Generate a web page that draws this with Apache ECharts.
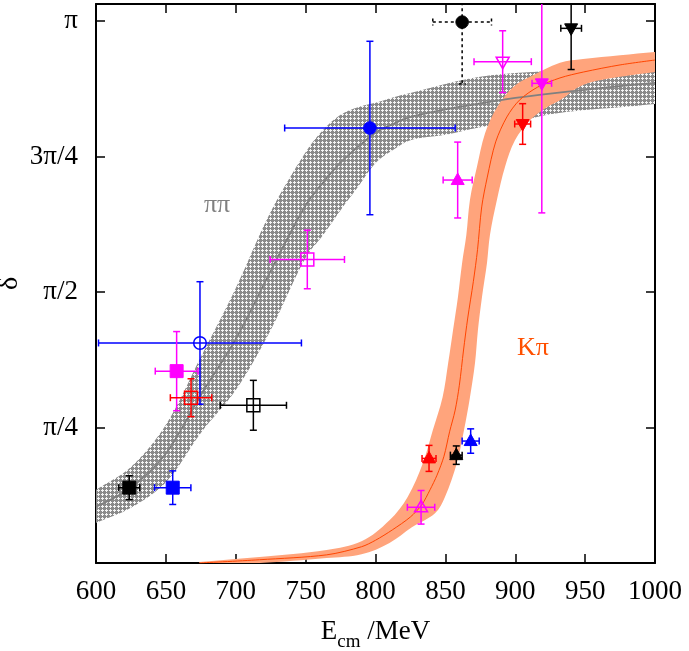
<!DOCTYPE html>
<html>
<head>
<meta charset="utf-8">
<title>phase shift</title>
<script src="https://cdn.jsdelivr.net/npm/echarts@6/dist/echarts.min.js"></script>
<style>
  html, body { margin: 0; padding: 0; background: #fff; }
  #chart { width: 689px; height: 651px; }
</style>
</head>
<body>
<div id="chart"></div>
<script>
// y values are in units of pi
const yTickLabels = ["", "π/4", "π/2", "3π/4", "π"];

// pi-pi band (hatched)
const pipiX = [600, 625, 650, 675, 700, 725, 750, 762.5, 775, 787.5, 800, 812.5, 825, 850, 875, 900, 925, 950, 975, 1000];
const pipiHigh = [0.135, 0.177, 0.255, 0.38, 0.507, 0.648, 0.758, 0.799, 0.827, 0.841, 0.849, 0.859, 0.867, 0.884, 0.897, 0.904, 0.908, 0.91, 0.911, 0.913];
const pipiLow = [0.074, 0.102, 0.149, 0.24, 0.319, 0.43, 0.563, 0.605, 0.651, 0.694, 0.738, 0.762, 0.78, 0.79, 0.804, 0.814, 0.828, 0.836, 0.841, 0.847];
const pipiMid = [0.104, 0.139, 0.202, 0.31, 0.413, 0.539, 0.66, 0.702, 0.739, 0.768, 0.794, 0.81, 0.823, 0.837, 0.848, 0.858, 0.866, 0.873, 0.88, 0.886];

// K-pi band, [E, delta]
const kpiMid = [[674, 0], [717, 0.006], [765, 0.015], [790, 0.03], [800, 0.042], [812, 0.061], [825, 0.085], [833, 0.107],
  [839, 0.135], [844, 0.162], [849, 0.197], [853, 0.242], [857, 0.282], [860, 0.328], [863, 0.393], [866, 0.452],
  [870, 0.519], [873, 0.578], [876, 0.657], [880, 0.712], [886, 0.777], [894, 0.823], [903, 0.854], [916, 0.878],
  [932, 0.895], [949, 0.906], [975, 0.919], [1000, 0.928]];
const kpiHigh = [[674, 0.002], [717, 0.011], [765, 0.024], [790, 0.04], [810, 0.079], [823, 0.122], [834, 0.185], [841, 0.245],
  [848, 0.306], [852, 0.369], [855.5, 0.43], [859, 0.491], [862, 0.554], [865, 0.605], [867.6, 0.67], [872.6, 0.731],
  [878.4, 0.793], [887, 0.841], [898.4, 0.878], [910.6, 0.897], [932, 0.923], [948.5, 0.93], [975, 0.937], [1000, 0.943]];
const kpiLow = [[674, 0], [717, 0], [765, 0.009], [790, 0.016], [810, 0.037], [826, 0.066], [842.6, 0.092], [849.7, 0.122], [858.3, 0.185],
  [863.3, 0.245], [867.6, 0.306], [871.2, 0.369], [873.3, 0.43], [876.2, 0.491], [879.8, 0.554], [881.9, 0.605],
  [886.9, 0.67], [892.7, 0.731], [899.8, 0.78], [910.6, 0.817], [922.7, 0.841], [932, 0.854], [948.5, 0.882],
  [975, 0.897], [1000, 0.906]];

// points: [E, delta, dE, ddelta]
const blackCircle = [[862, 0.998, 21, 0.114]];
const magentaOpenDown = [[891, 0.925, 20.5, 0.057]];
const blackDown = [[940, 0.9865, 7.4, 0.076]];
const magentaDown = [[919, 0.885, 7, 0.239]];
const redDown = [[905.3, 0.81, 5.7, 0.0375]];
const blueCircle = [[796, 0.8026, 61, 0.16]];
const magentaUp = [[858.8, 0.7066, 10.4, 0.07]];
const magentaOpenSquare = [[751.2, 0.56, 26.6, 0.054]];
const blueOpenCircle = [[674.4, 0.406, 72.6, 0.113]];
const magentaSquare = [[657.7, 0.354, 15.3, 0.073]];
const redOpenSquare = [[668, 0.305, 14.8, 0.035]];
const blackOpenSquare = [[712.6, 0.291, 23.7, 0.046]];
const blackSquare = [[623.8, 0.139, 7.5, 0.022]];
const blueSquare = [[654.9, 0.139, 13, 0.031]];
const redUp = [[838.3, 0.193, 5, 0.024]];
const blackUp = [[857.8, 0.199, 4.2, 0.017]];
const blueUp = [[868.1, 0.225, 6.1, 0.0225]];
const magentaOpenUp = [[832.6, 0.1028, 9.8, 0.031]];

const pointGroups = [
  { data: blackCircle, color: "#000", shape: "circle", filled: true, dashed: true },
  { data: magentaOpenDown, color: "#ff00ff", shape: "down", filled: false },
  { data: blackDown, color: "#000", shape: "down", filled: true },
  { data: magentaDown, color: "#ff00ff", shape: "down", filled: true },
  { data: redDown, color: "#ff0000", shape: "down", filled: true },
  { data: blueCircle, color: "#0000ff", shape: "circle", filled: true },
  { data: magentaUp, color: "#ff00ff", shape: "up", filled: true },
  { data: magentaOpenSquare, color: "#ff00ff", shape: "square", filled: false },
  { data: blueOpenCircle, color: "#0000ff", shape: "circle", filled: false },
  { data: magentaSquare, color: "#ff00ff", shape: "square", filled: true },
  { data: redOpenSquare, color: "#ff0000", shape: "square", filled: false },
  { data: blackOpenSquare, color: "#000", shape: "square", filled: false },
  { data: blackSquare, color: "#000", shape: "square", filled: true },
  { data: blueSquare, color: "#0000ff", shape: "square", filled: true },
  { data: redUp, color: "#ff0000", shape: "up", filled: true },
  { data: blackUp, color: "#000", shape: "up", filled: true },
  { data: blueUp, color: "#0000ff", shape: "up", filled: true },
  { data: magentaOpenUp, color: "#ff00ff", shape: "up", filled: false },
];

const FONT = "Liberation Serif";

function makeHatch() {
  const c = document.createElement("canvas");
  c.width = 4;
  c.height = 4;
  const g = c.getContext("2d");
  g.fillStyle = "#8a8a8a";
  g.fillRect(0, 0, 4, 4);
  g.fillStyle = "#f4f4f4";
  g.fillRect(2, 1, 1, 3);
  g.fillRect(1, 2, 3, 1);
  return c;
}

function bandSeries(upper, lower, fill, z) {
  return {
    type: "custom",
    z: z,
    silent: true,
    clip: true,
    data: [[800, 0.5]],
    renderItem: function (params, api) {
      const up = upper.map(p => api.coord(p));
      const lo = lower.slice().reverse().map(p => api.coord(p));
      // repeat the end points so the smoothing keeps the band ends straight
      const pts = [up[0]].concat(up, [up[up.length - 1]], [lo[0]], lo, [lo[lo.length - 1]]);
      return { type: "polygon", shape: { points: pts, smooth: 0.35 }, style: { fill: fill } };
    },
  };
}

function symbolShape(shape, c, color, filled) {
  const style = filled ? { fill: color, stroke: color, lineWidth: 1 } : { fill: "none", stroke: color, lineWidth: 1.5 };
  if (shape === "circle") {
    return { type: "circle", shape: { cx: c[0], cy: c[1], r: 6.3 }, style: style };
  }
  if (shape === "square") {
    return { type: "rect", shape: { x: c[0] - 6.5, y: c[1] - 6.5, width: 13, height: 13 }, style: style };
  }
  const s = shape === "up" ? 1 : -1;
  return {
    type: "polygon",
    shape: { points: [[c[0], c[1] - 7 * s], [c[0] - 6.5, c[1] + 4.5 * s], [c[0] + 6.5, c[1] + 4.5 * s]] },
    style: style,
  };
}

function pointSeries(group) {
  return {
    type: "custom",
    z: 10,
    clip: true,
    data: group.data,
    encode: { x: 0, y: 1 },
    renderItem: function (params, api) {
      const d = group.data[params.dataIndex];
      const c = api.coord([d[0], d[1]]);
      const l = api.coord([d[0] - d[2], d[1]]);
      const r = api.coord([d[0] + d[2], d[1]]);
      const t = api.coord([d[0], d[1] + d[3]]);
      const b = api.coord([d[0], d[1] - d[3]]);
      const ls = { stroke: group.color, lineWidth: 1.5, lineDash: group.dashed ? [3, 3] : null };
      const cap = 3.5;
      const seg = (x1, y1, x2, y2) => ({ type: "line", shape: { x1: x1, y1: y1, x2: x2, y2: y2 }, style: ls });
      return {
        type: "group",
        children: [
          seg(l[0], l[1], r[0], r[1]),
          seg(t[0], t[1], b[0], b[1]),
          seg(l[0], l[1] - cap, l[0], l[1] + cap),
          seg(r[0], r[1] - cap, r[0], r[1] + cap),
          seg(t[0] - cap, t[1], t[0] + cap, t[1]),
          seg(b[0] - cap, b[1], b[0] + cap, b[1]),
          symbolShape(group.shape, c, group.color, group.filled),
        ],
      };
    },
  };
}

function textSeries(x, y, text, color) {
  return {
    type: "custom",
    z: 12,
    data: [[x, y]],
    renderItem: function (params, api) {
      const c = api.coord([x, y]);
      return {
        type: "text",
        x: c[0],
        y: c[1],
        style: { text: text, fill: color, font: "26px '" + FONT + "'", align: "center", verticalAlign: "middle" },
      };
    },
  };
}

const frame = { show: true, onZero: false, lineStyle: { color: "#000", width: 2 } };
const ticks = { show: true, inside: true, length: 9, lineStyle: { color: "#000", width: 1.5 } };

const chart = echarts.init(document.getElementById("chart"));
chart.setOption({
  animation: false,
  backgroundColor: "#fff",
  grid: { left: 96, top: 4, width: 559, height: 559, containLabel: false, outerBoundsMode: "none" },
  xAxis: [
    {
      type: "value", min: 600, max: 1000, interval: 50, position: "bottom",
      axisLine: frame, axisTick: ticks, splitLine: { show: false },
      axisLabel: { margin: 15, fontFamily: FONT, fontSize: 27, color: "#000", formatter: v => String(v) },
      name: "{e|E}{s|cm}{e| /MeV}", nameLocation: "middle", nameGap: 55, nameMoveOverlap: false,
      nameTextStyle: {
        color: "#000",
        rich: {
          e: { fontFamily: FONT, fontSize: 27, color: "#000", padding: [0, 0, 7, 0], verticalAlign: "bottom" },
          s: { fontFamily: FONT, fontSize: 19, color: "#000", verticalAlign: "bottom" },
        },
      },
    },
    {
      type: "value", min: 600, max: 1000, interval: 50, position: "top",
      axisLine: frame, axisTick: ticks, splitLine: { show: false }, axisLabel: { show: false },
    },
  ],
  yAxis: [
    {
      type: "value", min: 0, max: 1.0314, interval: 0.25, position: "left",
      axisLine: frame, axisTick: ticks, splitLine: { show: false },
      axisLabel: {
        margin: 18, fontFamily: FONT, fontSize: 27, color: "#000",
        formatter: function (v) {
          const k = Math.round(v / 0.25);
          return Math.abs(v - k * 0.25) < 1e-6 && yTickLabels[k] !== undefined ? yTickLabels[k] : "";
        },
      },
      name: "δ", nameLocation: "middle", nameGap: 72, nameRotate: 90, nameMoveOverlap: false,
      nameTextStyle: { fontFamily: FONT, fontSize: 28, color: "#000" },
    },
    {
      type: "value", min: 0, max: 1.0314, interval: 0.25, position: "right",
      axisLine: frame, axisTick: ticks, splitLine: { show: false }, axisLabel: { show: false },
    },
  ],
  series: [
    bandSeries(pipiX.map((x, i) => [x, pipiHigh[i]]), pipiX.map((x, i) => [x, pipiLow[i]]),
      { image: makeHatch(), repeat: "repeat" }, 1),
    bandSeries(kpiHigh, kpiLow, "#ffa47c", 2),
    {
      type: "line", z: 3, silent: true, showSymbol: false, symbol: "none", smooth: 0.3,
      data: pipiX.map((x, i) => [x, pipiMid[i]]),
      lineStyle: { color: "#808080", width: 1.8 },
    },
    {
      type: "line", z: 4, silent: true, showSymbol: false, symbol: "none", smooth: 0.3,
      data: kpiMid,
      lineStyle: { color: "#ff4500", width: 1 },
    },
    textSeries(686.6, 0.6605, "ππ", "#808080"),
    textSeries(912.7, 0.3967, "Kπ", "#ff5000"),
  ].concat(pointGroups.map(pointSeries)),
});
</script>
</body>
</html>
